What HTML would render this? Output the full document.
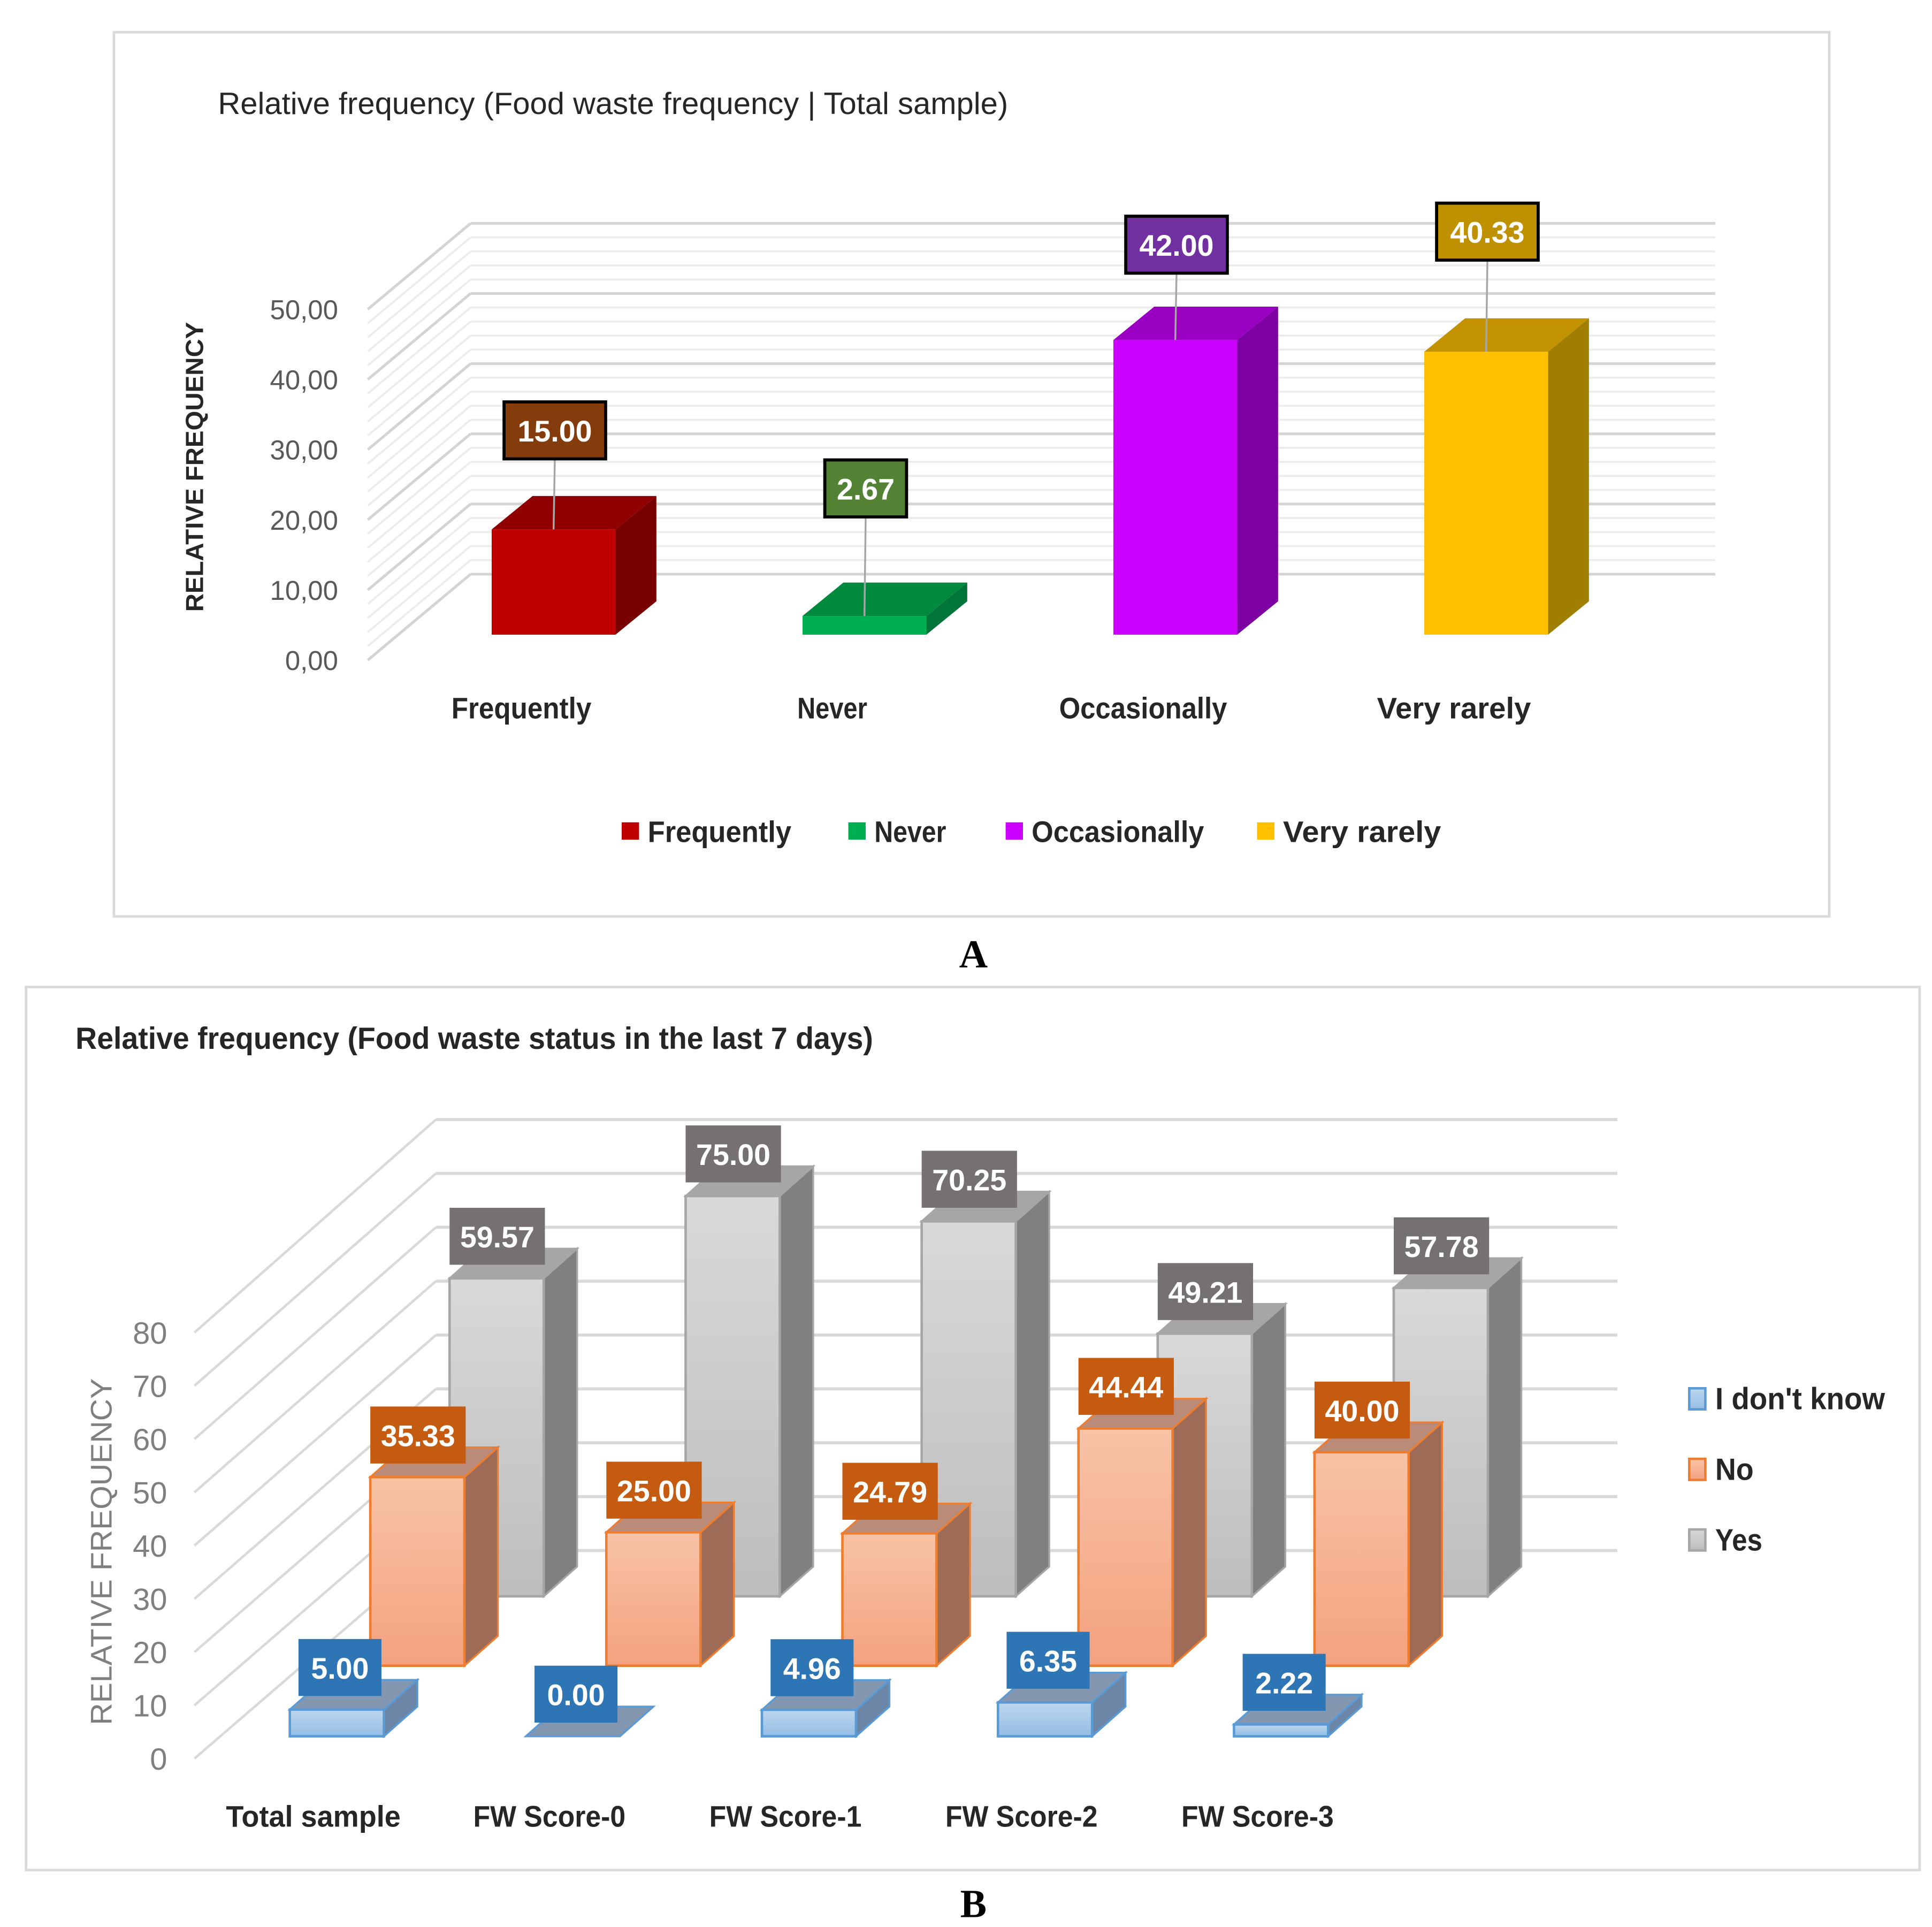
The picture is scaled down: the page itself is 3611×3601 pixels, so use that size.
<!DOCTYPE html>
<html><head><meta charset="utf-8"><title>Food waste charts</title>
<style>
html,body{margin:0;padding:0;background:#fff;}
svg{display:block;}
text{font-family:"Liberation Sans",sans-serif;}
</style></head>
<body>
<svg id="root" xmlns="http://www.w3.org/2000/svg" width="3611" height="3601" viewBox="0 0 1560 1556" preserveAspectRatio="none">
<defs>
<linearGradient id="gGray" x1="0" y1="0" x2="0" y2="1"><stop offset="0" stop-color="#d9d9d9"/><stop offset="1" stop-color="#bdbdbd"/></linearGradient>
<linearGradient id="gOrange" x1="0" y1="0" x2="0" y2="1"><stop offset="0" stop-color="#f8c3a6"/><stop offset="1" stop-color="#f4a27f"/></linearGradient>
<linearGradient id="gBlue" x1="0" y1="0" x2="0" y2="1"><stop offset="0" stop-color="#bdd7ee"/><stop offset="1" stop-color="#95bde4"/></linearGradient>
</defs>
<rect x="0" y="0" width="1560" height="1556" fill="#fff"/>

<!-- Chart A -->
<g id="chartA">
<rect x="92" y="26" width="1385" height="714" fill="#fff" stroke="#d9d9d9" stroke-width="2"/>
<text x="176" y="92" font-size="25" fill="#262626" textLength="638" lengthAdjust="spacingAndGlyphs">Relative frequency (Food waste frequency | Total sample)</text>
<text transform="translate(164,377) rotate(-90)" text-anchor="middle" font-size="20" font-weight="bold" fill="#262626" textLength="234" lengthAdjust="spacingAndGlyphs">RELATIVE FREQUENCY</text>
<g id="aGrid"></g><g id="aBars"></g><g id="aLabels"></g>
<g id="aLegend"></g>
</g>
<text x="786" y="781" text-anchor="middle" font-size="32" font-weight="bold" style="font-family:'Liberation Serif',serif">A</text>

<!-- Chart B -->
<g id="chartB">
<rect x="21" y="797" width="1529" height="713" fill="#fff" stroke="#d9d9d9" stroke-width="2"/>
<text x="61" y="847" font-size="25" font-weight="bold" fill="#262626" textLength="644" lengthAdjust="spacingAndGlyphs">Relative frequency (Food waste status in the last 7 days)</text>
<text transform="translate(90,1253) rotate(-90)" text-anchor="middle" font-size="24" fill="#7f7f7f" textLength="280" lengthAdjust="spacingAndGlyphs">RELATIVE FREQUENCY</text>
<g id="bGrid"></g><g id="bBars"></g><g id="bLabels"></g>
<g id="bLegend"></g>
</g>
<text x="786" y="1548" text-anchor="middle" font-size="32" font-weight="bold" style="font-family:'Liberation Serif',serif">B</text>
</svg>
<script>
// ---- Chart A data ----
const aCategories = ["Frequently", "Never", "Occasionally", "Very rarely"];
const aValues = [15.00, 2.67, 42.00, 40.33];
const aTicks = ["0,00", "10,00", "20,00", "30,00", "40,00", "50,00"];
const aTickValues = [0, 10, 20, 30, 40, 50];

// ---- Chart B data ----
const bCategories = ["Total sample", "FW Score-0", "FW Score-1", "FW Score-2", "FW Score-3"];
const bSeriesNames = ["I don't know", "No", "Yes"];
const bDontKnow = [5.00, 0.00, 4.96, 6.35, 2.22];
const bNo = [35.33, 25.00, 24.79, 44.44, 40.00];
const bYes = [59.57, 75.00, 70.25, 49.21, 57.78];
const bTicks = ["0", "10", "20", "30", "40", "50", "60", "70", "80"];
const bTickValues = [0, 10, 20, 30, 40, 50, 60, 70, 80];

const NS = "http://www.w3.org/2000/svg";
function mk(tag, attrs, parent) {
  const e = document.createElementNS(NS, tag);
  for (const k in attrs) e.setAttribute(k, attrs[k]);
  parent.appendChild(e);
  return e;
}

// ===== Chart A =====
const aScale = 5.665;
function aFrontY(v) { return 533 - v * aScale; }
function aBackY(v) { return 463.6 - v * aScale; }
function aBarY(v) { return 512.5 - v * aScale; }
function aBarX(i) { return 397 + i * 251; }
const aLabelGap = [57, 80, 54, 74];
const aGrid = document.getElementById('aGrid');
for (let v = 0; v <= 50; v += 2) {
  const major = v % 10 === 0;
  const col = major ? '#d4d4d4' : '#ececec';
  const sw = major ? 2.2 : 1.6;
  const d = mk('line', {x1: 297, y1: aFrontY(v), x2: 380, y2: aBackY(v), stroke: col, 'stroke-width': sw}, aGrid);
  
  
  const h = mk('line', {x1: 380, y1: aBackY(v), x2: 1385, y2: aBackY(v), stroke: col, 'stroke-width': sw}, aGrid);
  
  
}
aTickValues.forEach((v, i) => {
  const t = mk('text', {x: 273, y: aFrontY(v) + 8, 'text-anchor': 'end', 'font-size': 22, fill: '#595959'}, aGrid);
  
  
  t.textContent = aTicks[i];
});
const aFront = ['#c00000', '#00b050', '#cc00ff', '#ffc000'];
const aTop = ['#900000', '#008a3e', '#9a00c2', '#c29200'];
const aSide = ['#780000', '#00753a', '#7d00a2', '#a07e00'];
const aBoxFill = ['#843c0c', '#548235', '#7030a0', '#bf9000'];
const aDx = 33, aDy = -27, aW = 100;
const aBars = document.getElementById('aBars');
const aLabels = document.getElementById('aLabels');
aValues.forEach((v, i) => {
  const x = aBarX(i), yb = 512.5, yt = aBarY(v);
  const g = mk('g', {}, aBars);
  
  
  mk('polygon', {points: `${x+aW},${yt} ${x+aW+aDx},${yt+aDy} ${x+aW+aDx},${yb+aDy} ${x+aW},${yb}`, fill: aSide[i]}, g);
  mk('polygon', {points: `${x},${yt} ${x+aDx},${yt+aDy} ${x+aW+aDx},${yt+aDy} ${x+aW},${yt}`, fill: aTop[i]}, g);
  mk('rect', {x: x, y: yt, width: aW, height: yb - yt, fill: aFront[i]}, g);
  const txt = v.toFixed(2);
  const bw = txt.length >= 5 ? 82 : 66;
  const cx = x + 51;
  const boxBottom = yt - aLabelGap[i];
  const lbl = mk('g', {}, aLabels);
  
  
  mk('line', {x1: cx, y1: boxBottom, x2: cx - 1, y2: yt, stroke: '#a6a6a6', 'stroke-width': 1.5}, lbl);
  mk('rect', {x: cx - bw / 2, y: boxBottom - 46, width: bw, height: 46, fill: aBoxFill[i], stroke: '#000', 'stroke-width': 2.5}, lbl);
  const t = mk('text', {x: cx, y: boxBottom - 14, 'text-anchor': 'middle', 'font-size': 24, 'font-weight': 'bold', fill: '#fff'}, lbl);
  t.textContent = txt;
  const c = mk('text', {x: x + 24, y: 580, 'text-anchor': 'middle', 'font-size': 24, 'font-weight': 'bold', fill: '#262626'}, aGrid);
  
  
  c.setAttribute('textLength', aCategories[i].length * 11.3);
  c.setAttribute('lengthAdjust', 'spacingAndGlyphs');
  c.textContent = aCategories[i];
});
const aLegX = [502, 685, 812, 1015];
const aLegend = document.getElementById('aLegend');
aCategories.forEach((name, i) => {
  const g = mk('g', {}, aLegend);
  
  
  mk('rect', {x: aLegX[i], y: 664, width: 14, height: 14, fill: aFront[i]}, g);
  const t = mk('text', {x: aLegX[i] + 21, y: 680, 'font-size': 24, 'font-weight': 'bold', fill: '#262626', textLength: name.length * 11.6, lengthAdjust: 'spacingAndGlyphs'}, g);
  t.textContent = name;
});

// ===== Chart B =====
const bScale = 4.31;
function bFrontY(v) { return 1420 - v * 4.3; }
function bBackY(v) { return 1252 - v * 4.35; }
const bGrid = document.getElementById('bGrid');
bTickValues.forEach((v, i) => {
  const d = mk('line', {x1: 157, y1: bFrontY(v), x2: 352, y2: bBackY(v), stroke: '#d9d9d9', 'stroke-width': 2}, bGrid);
  
  
  const h = mk('line', {x1: 352, y1: bBackY(v), x2: 1306, y2: bBackY(v), stroke: '#d9d9d9', 'stroke-width': 2.5}, bGrid);
  
  
  const t = mk('text', {x: 135, y: bFrontY(v) + 9, 'text-anchor': 'end', 'font-size': 25, fill: '#7f7f7f'}, bGrid);
  
  
  t.textContent = bTicks[i];
});
const bRows = [
  {vals: bYes, x0: 363, base: 1289, front: 'url(#gGray)', top: '#a6a6a6', side: '#808080', stroke: '#a6a6a6', box: '#767171', key: 'yes'},
  {vals: bNo, x0: 299, base: 1345, front: 'url(#gOrange)', top: '#b98b78', side: '#9e6b56', stroke: '#ed7d31', box: '#c55a11', key: 'no'},
  {vals: bDontKnow, x0: 234, base: 1402, front: 'url(#gBlue)', top: '#8497b0', side: '#6c86a8', stroke: '#5b9bd5', box: '#2e75b6', key: 'dont-know'}
];
const bDx = 27, bDy = -24, bW = 76, bStep = 190.6;
const bBars = document.getElementById('bBars');
const bLabels = document.getElementById('bLabels');
bRows.forEach(row => {
  row.vals.forEach((v, i) => {
    const x = row.x0 + i * bStep, yb = row.base, yt = yb - v * bScale;
    const g = mk('g', {}, bBars);
    
    
    mk('polygon', {points: `${x+bW},${yt} ${x+bW+bDx},${yt+bDy} ${x+bW+bDx},${yb+bDy} ${x+bW},${yb}`, fill: row.side, stroke: row.stroke, 'stroke-width': 1.5}, g);
    mk('polygon', {points: `${x},${yt} ${x+bDx},${yt+bDy} ${x+bW+bDx},${yt+bDy} ${x+bW},${yt}`, fill: row.top, stroke: row.stroke, 'stroke-width': 1.5}, g);
    if (v > 0) mk('rect', {x: x, y: yt, width: bW, height: yb - yt, fill: row.front, stroke: row.stroke, 'stroke-width': 2}, g);
    const txt = v.toFixed(2);
    const bw = txt.length >= 5 ? 77 : 67;
    const bx = txt.length >= 5 ? x : x + 7;
    const lbl = mk('g', {}, bLabels);
    
    
    mk('rect', {x: bx, y: yt - 11 - 46, width: bw, height: 46, fill: row.box}, lbl);
    const t = mk('text', {x: bx + bw / 2, y: yt - 25, 'text-anchor': 'middle', 'font-size': 24, 'font-weight': 'bold', fill: '#fff'}, lbl);
    t.textContent = txt;
  });
});
bCategories.forEach((name, i) => {
  const c = mk('text', {x: 253 + i * bStep, y: 1475, 'text-anchor': 'middle', 'font-size': 24, 'font-weight': 'bold', fill: '#262626'}, bGrid);
  
  
  c.setAttribute('textLength', name === 'Total sample' ? 141 : 123);
  c.setAttribute('lengthAdjust', 'spacingAndGlyphs');
  c.textContent = name;
});
const bLegY = [1129, 1186, 1243];
const bLegFill = ['url(#gBlue)', 'url(#gOrange)', 'url(#gGray)'];
const bLegStroke = ['#5b9bd5', '#ed7d31', '#a6a6a6'];
const bLegLen = [137, 31, 38];
const bLegend = document.getElementById('bLegend');
bSeriesNames.forEach((name, i) => {
  const g = mk('g', {}, bLegend);
  
  
  mk('rect', {x: 1364, y: bLegY[i] - 8, width: 13, height: 17, fill: bLegFill[i], stroke: bLegStroke[i], 'stroke-width': 2}, g);
  const t = mk('text', {x: 1385, y: bLegY[i] + 9, 'font-size': 25, 'font-weight': 'bold', fill: '#262626', textLength: bLegLen[i], lengthAdjust: 'spacingAndGlyphs'}, g);
  t.textContent = name;
});
</script>
</body></html>
